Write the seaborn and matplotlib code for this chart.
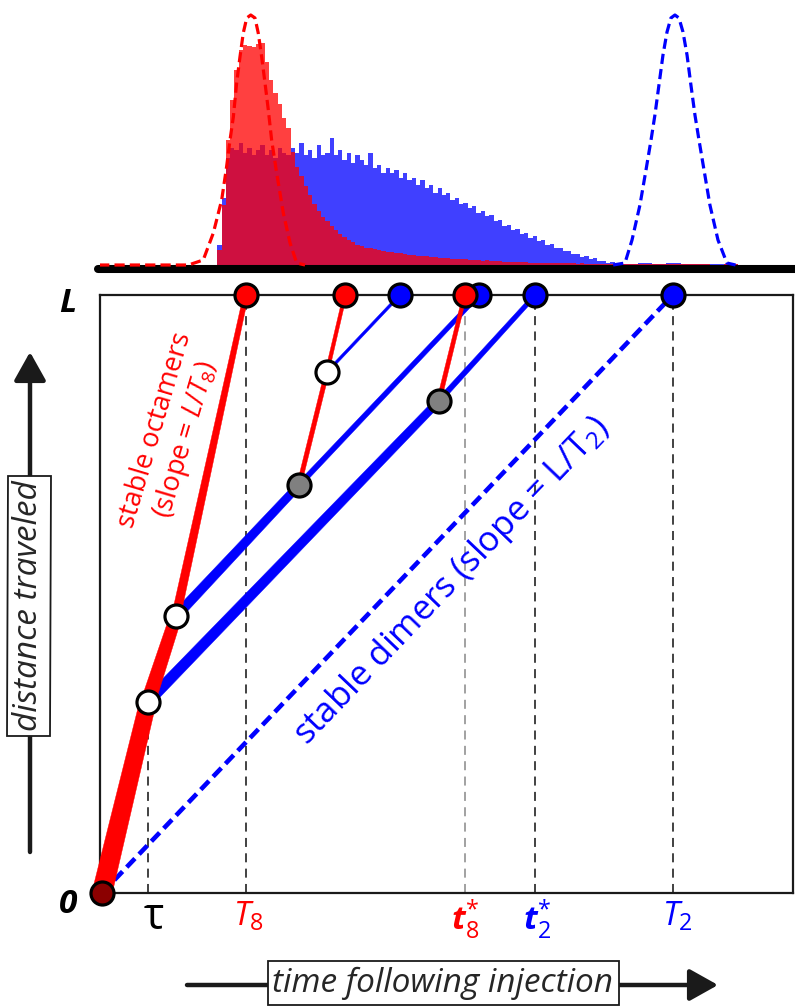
import numpy as np
import pandas as pd
import matplotlib
matplotlib.use("Agg")
import matplotlib.pyplot as plt
import seaborn as sns
from matplotlib.patches import Polygon
from matplotlib.transforms import IdentityTransform, blended_transform_factory

sns.set_theme(style="white")
plt.rcParams["font.family"] = ["Open Sans", "DejaVu Sans"]
plt.rcParams["mathtext.fontset"] = "custom"
plt.rcParams["mathtext.rm"] = "Open Sans"
plt.rcParams["mathtext.it"] = "Open Sans:italic"
plt.rcParams["mathtext.bf"] = "Open Sans:bold"
plt.rcParams["mathtext.bfit"] = "Open Sans:italic:bold"
plt.rcParams["mathtext.default"] = "regular"

RED, BLUE, INK = "#ff0000", "#0000ff", "#1a1a1a"

# ---------------------------------------------------------------- data
# characteristic times (in units of T8) and column length
tau, T8, t8_star, t2_star, T2 = 0.32, 1.0, 2.52, 3.01, 3.965
L = 1.0

# trajectories (time, distance travelled)
oct_t = [0.0, tau, 0.514, T8]            # octamer band that sheds dimers
oct_d = [0.0, 0.32, 0.463, L]
dimA_t = [tau, 2.34, t2_star]            # dimer released at tau, re-binds at 2.34
dimA_d = [0.32, 0.823, L]
octA_t = [2.34, t8_star]                 # re-formed octamer
octA_d = [0.823, L]
dimB_t = [0.514, 1.368, 2.618]           # second released dimer
dimB_d = [0.463, 0.682, L]
octB_t = [1.368, 1.5625, 1.6875]         # re-formed octamer, dissociates again
octB_d = [0.682, 0.871, L]
dimC_t = [1.5625, 2.069]
dimC_d = [0.871, L]
dimer_t = [0.0, T2]                      # stable dimers
dimer_d = [0.0, L]

# events
dissoc_t = [tau, 0.514, 1.5625]
dissoc_d = [0.32, 0.463, 0.871]
assoc_t = [1.368, 2.34]
assoc_d = [0.682, 0.823]
arrive_red_t = [T8, 1.6875, t8_star]
arrive_blue_t = [2.069, 2.618, t2_star, T2]

# elution profiles (binned counts, normalised to the fitted peak height)
bin_edges = [round(v, 4) for v in
             list(0.80 + 0.03 * np.arange(95)) + list(3.62 + 0.1 * np.arange(1, 12))]
red_counts = [
    0.06, 0.24, 0.50, 0.66, 0.78, 0.86, 0.88, 0.876, 0.872, 0.884,
    0.888, 0.812, 0.74, 0.688, 0.644, 0.588, 0.548, 0.452, 0.392, 0.356,
    0.316, 0.28, 0.244, 0.216, 0.192, 0.176, 0.156, 0.14, 0.124, 0.112,
    0.10, 0.092, 0.08, 0.076, 0.068, 0.068, 0.064, 0.06, 0.056, 0.052,
    0.052, 0.048, 0.048, 0.044, 0.042, 0.04, 0.038, 0.036, 0.038, 0.034,
    0.032, 0.03, 0.028, 0.03, 0.026, 0.024, 0.024, 0.026, 0.022, 0.02,
    0.02, 0.018, 0.02, 0.017, 0.015, 0.015, 0.013, 0.014, 0.012, 0.012,
    0.011, 0.012, 0.010, 0.010, 0.009, 0.010, 0.008, 0.009, 0.008, 0.008,
    0.007, 0.008, 0.007, 0.006, 0.007, 0.006, 0.006, 0.005, 0.006, 0.005,
    0.005, 0.004, 0.005, 0.004,
    0.004, 0.004, 0.003, 0.004, 0.003, 0.003, 0.002, 0.003, 0.002, 0.002, 0.001,
]
blue_counts = [
    0.08, 0.27, 0.43, 0.47, 0.46, 0.49, 0.45, 0.47, 0.44, 0.46,
    0.48, 0.44, 0.46, 0.43, 0.47, 0.45, 0.44, 0.47, 0.45, 0.49,
    0.44, 0.46, 0.43, 0.48, 0.44, 0.45, 0.51, 0.44, 0.46, 0.42,
    0.45, 0.41, 0.44, 0.42, 0.40, 0.45, 0.39, 0.40, 0.37, 0.39,
    0.37, 0.38, 0.35, 0.37, 0.34, 0.35, 0.32, 0.34, 0.31, 0.32,
    0.29, 0.31, 0.28, 0.29, 0.26, 0.27, 0.245, 0.25, 0.23, 0.235,
    0.21, 0.215, 0.195, 0.20, 0.175, 0.18, 0.155, 0.16, 0.14, 0.145,
    0.125, 0.13, 0.11, 0.115, 0.095, 0.10, 0.08, 0.085, 0.068, 0.07,
    0.055, 0.058, 0.044, 0.046, 0.034, 0.036, 0.025, 0.027, 0.016, 0.018,
    0.01, 0.012, 0.005, 0.005,
    0.004, 0.008, 0.004, 0.007, 0.003, 0.006, 0.003, 0.004, 0.002, 0.001, 0.0,
]

# peaks expected for stable octamers / stable dimers
red_fit_t = [-0.02, 0.60, 0.703, 0.773, 0.831, 0.865, 0.889, 0.912, 0.935, 0.958, 0.981, 1.005,
             1.033, 1.0625, 1.085, 1.109, 1.132, 1.155, 1.178, 1.213, 1.259, 1.306, 1.352, 1.41]
red_fit_y = [0.0, 0.0, 0.02, 0.128, 0.26, 0.392, 0.50, 0.592, 0.728, 0.832, 0.928, 0.988,
             1.0, 0.988, 0.928, 0.832, 0.728, 0.62, 0.50, 0.368, 0.208, 0.088, 0.008, 0.0]
blue_fit_t = [3.55, 3.632, 3.681, 3.736, 3.778, 3.813, 3.840, 3.868, 3.896, 3.924, 3.951, 3.979,
              4.007, 4.035, 4.063, 4.090, 4.118, 4.146, 4.181, 4.222, 4.278, 4.340, 4.40]
blue_fit_y = [0.0, 0.008, 0.10, 0.24, 0.38, 0.50, 0.60, 0.72, 0.84, 0.932, 0.988, 1.0,
              0.988, 0.932, 0.84, 0.72, 0.60, 0.50, 0.38, 0.24, 0.10, 0.008, 0.0]

# ---------------------------------------------------------------- figure
W, H = 795, 1007
fig = plt.figure(figsize=(W / 100, H / 100), dpi=100, facecolor="white")
XLIM = (-0.014, 4.799)

# bottom panel: distance vs time
ax = fig.add_axes([100 / W, 1 - 893 / H, 693 / W, 598 / H])
ax.set_xlim(*XLIM)
ax.set_ylim(0, L)
ax.set_xticks([])
ax.set_yticks([])
for s in ax.spines.values():
    s.set_color(INK)
    s.set_linewidth(1.6)


def tapered(t, d, widths, color, z):
    """Draw a polyline whose width (px) varies linearly along each segment."""
    P = ax.transData.transform(np.column_stack([t, d]))
    for i in range(len(P) - 1):
        p0, p1 = P[i], P[i + 1]
        w0, w1 = widths[i]
        v = p1 - p0
        n = np.array([-v[1], v[0]]) / np.hypot(*v)
        verts = [p0 + n * w0 / 2, p1 + n * w1 / 2, p1 - n * w1 / 2, p0 - n * w0 / 2]
        ax.add_patch(Polygon(verts, closed=True, transform=IdentityTransform(),
                             fc=color, ec=color, lw=0.3, zorder=z, clip_on=False))


# vertical guides
guide_t = [tau, T8, t8_star, t2_star, T2]
guide_top = [0.32, L, L, L, L]
guide_col = ["#333333", "#333333", "#9a9a9a", "#333333", "#333333"]
for gt, gtop, gc in zip(guide_t, guide_top, guide_col):
    ax.plot([gt, gt], [0, gtop], color=gc, lw=1.3, dashes=(5, 3.5), zorder=1)

# stable dimers
ax.plot(dimer_t, dimer_d, color=BLUE, lw=3.3, dashes=(2.6, 1.3),
        dash_capstyle="butt", zorder=2, clip_on=False)

tapered(dimA_t, dimA_d, [(11, 8), (5.5, 4.5)], BLUE, 3)
tapered(dimB_t, dimB_d, [(10, 8), (5.5, 4.5)], BLUE, 3)
tapered(dimC_t, dimC_d, [(2.8, 2.8)], BLUE, 3)
tapered(octA_t, octA_d, [(4.5, 4.0)], RED, 3.2)
tapered(octB_t, octB_d, [(4.5, 4.5), (3.8, 3.5)], RED, 3.2)
tapered(oct_t, oct_d, [(20, 16.5), (14.5, 12), (9, 5)], RED, 3.4)

mk = dict(s=275, linewidth=2.3, edgecolor="black", zorder=6, clip_on=False, ax=ax, legend=False)
sns.scatterplot(x=arrive_blue_t, y=[L] * len(arrive_blue_t), color=BLUE, **mk)
sns.scatterplot(x=arrive_red_t, y=[L] * len(arrive_red_t), color=RED, **mk)
sns.scatterplot(x=dissoc_t, y=dissoc_d, color="white", **mk)
sns.scatterplot(x=assoc_t, y=assoc_d, color="#808080", **mk)
sns.scatterplot(x=[0.0], y=[0.0], color="#8b0000", **mk)
ax.set_xlim(*XLIM)
ax.set_ylim(0, L)

# axis labels on the bottom panel
lab = blended_transform_factory(ax.transData, ax.transAxes)
ax.text(0.36, -0.004, "τ", transform=lab, ha="center", va="top", size=31, color="black")
ax.text(T8 + 0.02, -0.012, r"$\mathit{T}_{8}$", transform=lab, ha="center", va="top",
        size=24, color=RED)
ax.text(t8_star, -0.008, r"$\mathbfit{t}_{8}^{*}$", transform=lab, ha="center", va="top",
        size=24, color=RED)
ax.text(t2_star + 0.01, -0.008, r"$\mathbfit{t}_{2}^{*}$", transform=lab, ha="center",
        va="top", size=24, color=BLUE)
ax.text(T2 + 0.03, -0.012, r"$\mathit{T}_{2}$", transform=lab, ha="center", va="top",
        size=24, color=BLUE)
ax.text(-0.236, -0.02, "0", ha="center", va="center", size=24, weight="bold",
        style="italic", color="black", clip_on=False)
ax.text(-0.236, 0.985, "L", ha="center", va="center", size=24, weight="bold",
        style="italic", color="black", clip_on=False)

ax.text(0.48, 0.766, "stable octamers\n" + r"(slope = $\mathit{L/T}_{8}$)", rotation=73.5,
        rotation_mode="anchor", ha="center", va="center", multialignment="center",
        size=19.5, color=RED, linespacing=1.1, zorder=4)
ax.text(2.43, 0.522, r"stable dimers (slope = $L/T_{2}$)", rotation=46.3,
        rotation_mode="anchor", ha="center", va="center", size=25, color=BLUE, zorder=4)

# top panel: elution profiles
axt = fig.add_axes([100 / W, 1 - 280 / H, 693 / W, 280 / H])
axt.stairs(blue_counts, bin_edges, fill=True, color=BLUE, alpha=0.75, lw=0, zorder=1)
axt.stairs(red_counts, bin_edges, fill=True, color=RED, alpha=0.75, lw=0, zorder=2)
sns.lineplot(x=red_fit_t, y=red_fit_y, sort=False, color=RED, lw=2.3, dashes=False,
             linestyle=(0, (3.2, 1.6)), zorder=4, ax=axt)
sns.lineplot(x=blue_fit_t, y=blue_fit_y, sort=False, color=BLUE, lw=2.3, dashes=False,
             linestyle=(0, (3.2, 1.6)), zorder=4, ax=axt)
axt.plot([-0.03, 4.85], [-0.016, -0.016], color="black", lw=5.8,
         solid_capstyle="round", zorder=3, clip_on=False)
axt.set_xlim(*XLIM)
axt.set_ylim(-0.06, 1.06)
axt.set_axis_off()

# axis captions with arrows (figure pixel coordinates)
ov = fig.add_axes([0, 0, 1, 1])
ov.set_xlim(0, W)
ov.set_ylim(H, 0)
ov.set_axis_off()
ov.patch.set_alpha(0)
arrow = dict(arrowstyle="-|>,head_length=0.5,head_width=0.28", lw=3.2, color=INK,
             mutation_scale=35, shrinkA=0, shrinkB=0)
ov.annotate("", xy=(718, 985), xytext=(187, 985), arrowprops=arrow)
ov.annotate("", xy=(30, 352), xytext=(30, 852), arrowprops=arrow)
box = dict(boxstyle="square,pad=0.15", fc="white", ec=INK, lw=1.3)
ov.text(443, 983, "time following injection", style="italic", size=24,
        ha="center", va="center", bbox=box, zorder=5)
ov.text(29, 606, "distance traveled", style="italic", size=24, rotation=90,
        ha="center", va="center", bbox=box, zorder=5)

fig.savefig("out.png", dpi=100, facecolor="white")
